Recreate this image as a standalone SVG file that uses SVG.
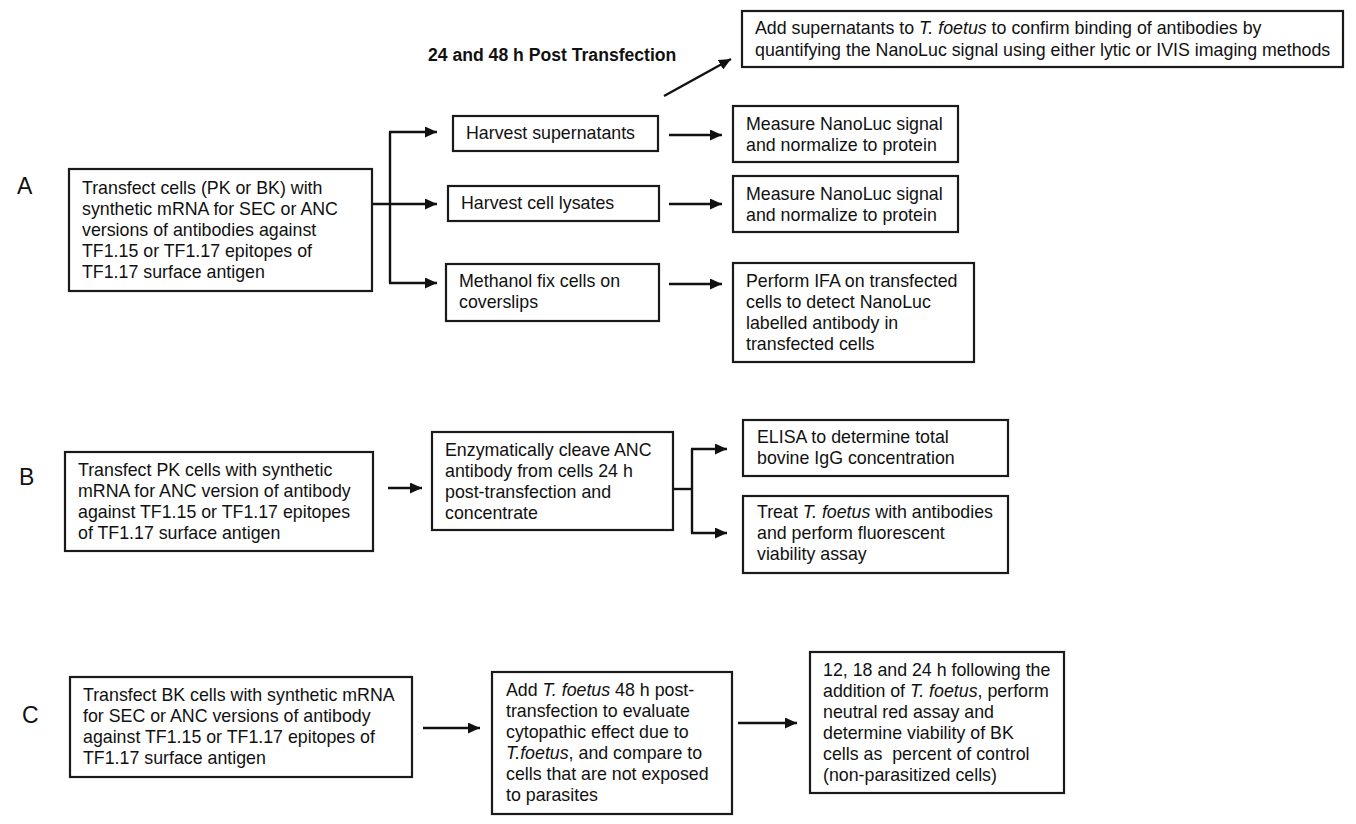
<svg xmlns="http://www.w3.org/2000/svg" width="1356" height="824" viewBox="0 0 1356 824">
<defs>
<style>
.box{fill:#fff;stroke:#1a1a1a;stroke-width:2.2}
.t{font-family:"Liberation Sans",Arial,sans-serif;font-size:17.8px;fill:#111;white-space:pre}
.lbl{font-family:"Liberation Sans",Arial,sans-serif;font-size:23px;fill:#111}
.hd{font-family:"Liberation Sans",Arial,sans-serif;font-size:17.6px;font-weight:bold;fill:#111}
.i{font-style:italic}
.c{fill:none;stroke:#111;stroke-width:2.4}
.a{marker-end:url(#ah)}
</style>
<marker id="ah" markerUnits="userSpaceOnUse" markerWidth="13" markerHeight="11" refX="12" refY="5.5" orient="auto">
<path d="M0,0 L12,5.5 L0,11 z" fill="#111"/>
</marker>
</defs>
<rect width="1356" height="824" fill="#fff"/>
<text class="lbl" x="17" y="194">A</text>
<text class="lbl" x="19" y="485">B</text>
<text class="lbl" x="22" y="723">C</text>
<text class="hd" x="428" y="61">24 and 48 h Post Transfection</text>

<g id="connectors">
<path class="c a" d="M362,204 H437"/>
<path class="c" d="M390,132 V283"/>
<path class="c a" d="M389,132 H437"/>
<path class="c a" d="M389,283 H437"/>
<path class="c a" d="M669,135 H722"/>
<path class="c a" d="M669,204 H722"/>
<path class="c a" d="M669,284 H722"/>
<path class="c a" d="M664,96 L731,59"/>
<path class="c a" d="M388,488 H422"/>
<path class="c" d="M673,489 H692"/>
<path class="c" d="M692,449 V533"/>
<path class="c a" d="M691,449 H727"/>
<path class="c a" d="M691,533 H727"/>
<path class="c a" d="M423,728 H480"/>
<path class="c a" d="M738,723 H797"/>
</g>

<g id="a_transfect">
<rect class="box" x="69" y="169" width="303" height="122"/>
<text class="t" x="82" y="194">Transfect cells (PK or BK) with</text>
<text class="t" x="82" y="215">synthetic mRNA for SEC or ANC</text>
<text class="t" x="82" y="236">versions of antibodies against</text>
<text class="t" x="82" y="257">TF1.15 or TF1.17 epitopes of</text>
<text class="t" x="82" y="278">TF1.17 surface antigen</text>
</g>
<g id="a_supernatants">
<rect class="box" x="453" y="116" width="205" height="35"/>
<text class="t" x="466" y="139">Harvest supernatants</text>
</g>
<g id="a_lysates">
<rect class="box" x="448" y="186" width="211" height="35"/>
<text class="t" x="461" y="209">Harvest cell lysates</text>
</g>
<g id="a_methanol">
<rect class="box" x="446" y="264" width="213" height="57"/>
<text class="t" x="459" y="287">Methanol fix cells on</text>
<text class="t" x="459" y="308">coverslips</text>
</g>
<g id="a_add_super">
<rect class="box" x="742" y="11" width="601" height="56"/>
<text class="t" x="755" y="34">Add supernatants to <tspan class="i">T. foetus</tspan> to confirm binding of antibodies by</text>
<text class="t" x="755" y="56">quantifying the NanoLuc signal using either lytic or IVIS imaging methods</text>
</g>
<g id="a_measure1">
<rect class="box" x="733" y="106" width="225" height="56"/>
<text class="t" x="746" y="130">Measure NanoLuc signal</text>
<text class="t" x="746" y="151">and normalize to protein</text>
</g>
<g id="a_measure2">
<rect class="box" x="733" y="176" width="225" height="56"/>
<text class="t" x="746" y="200">Measure NanoLuc signal</text>
<text class="t" x="746" y="221">and normalize to protein</text>
</g>
<g id="a_ifa">
<rect class="box" x="733" y="263" width="241" height="99"/>
<text class="t" x="746" y="287">Perform IFA on transfected</text>
<text class="t" x="746" y="308">cells to detect NanoLuc</text>
<text class="t" x="746" y="329">labelled antibody in</text>
<text class="t" x="746" y="350">transfected cells</text>
</g>

<g id="b_transfect">
<rect class="box" x="65" y="452" width="308" height="99"/>
<text class="t" x="78" y="476">Transfect PK cells with synthetic</text>
<text class="t" x="78" y="497">mRNA for ANC version of antibody</text>
<text class="t" x="78" y="518">against TF1.15 or TF1.17 epitopes</text>
<text class="t" x="78" y="539">of TF1.17 surface antigen</text>
</g>
<g id="b_cleave">
<rect class="box" x="432" y="432" width="241" height="98"/>
<text class="t" x="445" y="456">Enzymatically cleave ANC</text>
<text class="t" x="445" y="477">antibody from cells 24 h</text>
<text class="t" x="445" y="498">post-transfection and</text>
<text class="t" x="445" y="519">concentrate</text>
</g>
<g id="b_elisa">
<rect class="box" x="743" y="420" width="265" height="56"/>
<text class="t" x="757" y="443">ELISA to determine total</text>
<text class="t" x="757" y="464">bovine IgG concentration</text>
</g>
<g id="b_treat">
<rect class="box" x="743" y="496" width="265" height="77"/>
<text class="t" x="757" y="518">Treat <tspan class="i">T. foetus</tspan> with antibodies</text>
<text class="t" x="757" y="539">and perform fluorescent</text>
<text class="t" x="757" y="560">viability assay</text>
</g>

<g id="c_transfect">
<rect class="box" x="70" y="677" width="342" height="100"/>
<text class="t" x="83" y="701">Transfect BK cells with synthetic mRNA</text>
<text class="t" x="83" y="722">for SEC or ANC versions of antibody</text>
<text class="t" x="83" y="743">against TF1.15 or TF1.17 epitopes of</text>
<text class="t" x="83" y="764">TF1.17 surface antigen</text>
</g>
<g id="c_add">
<rect class="box" x="492" y="672" width="240" height="142"/>
<text class="t" x="506" y="696">Add <tspan class="i">T. foetus</tspan> 48 h post-</text>
<text class="t" x="506" y="717">transfection to evaluate</text>
<text class="t" x="506" y="738">cytopathic effect due to</text>
<text class="t" x="506" y="759"><tspan class="i">T.foetus</tspan>, and compare to</text>
<text class="t" x="506" y="780">cells that are not exposed</text>
<text class="t" x="506" y="801">to parasites</text>
</g>
<g id="c_neutral">
<rect class="box" x="810" y="652" width="254" height="141"/>
<text class="t" x="823" y="676">12, 18 and 24 h following the</text>
<text class="t" x="823" y="697">addition of <tspan class="i">T. foetus</tspan>, perform</text>
<text class="t" x="823" y="718">neutral red assay and</text>
<text class="t" x="823" y="739">determine viability of BK</text>
<text class="t" x="823" y="760">cells as  percent of control</text>
<text class="t" x="823" y="781">(non-parasitized cells)</text>
</g>
</svg>
